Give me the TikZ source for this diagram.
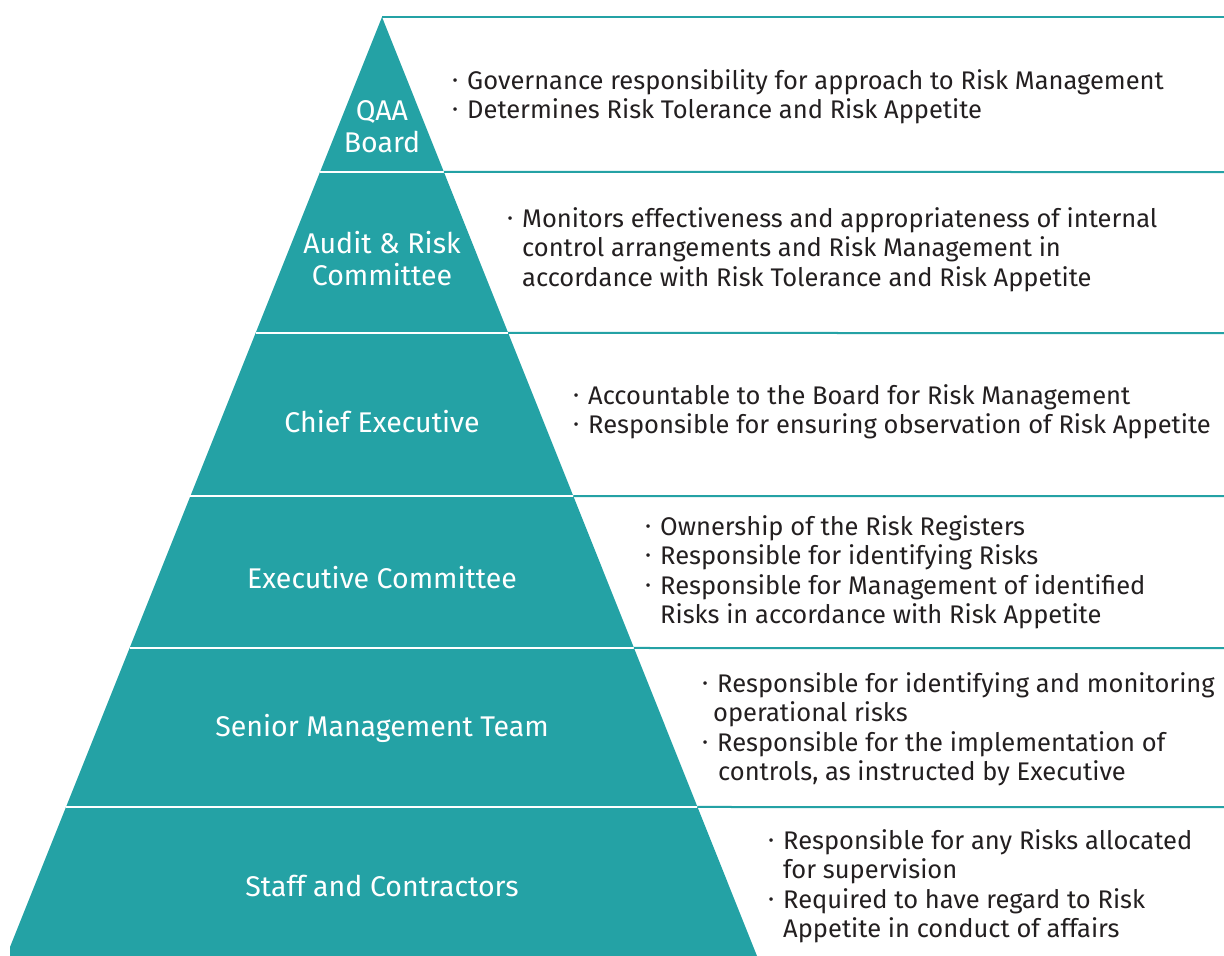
\documentclass[tikz,border=0pt]{standalone}
\usepackage{fontspec}
\setmainfont{Fira Sans}
\usetikzlibrary{calc}
\definecolor{qaateal}{RGB}{36,162,165}
\definecolor{inkgrey}{RGB}{35,31,32}
\newcommand{\bul}{\makebox[15pt][l]{\raisebox{1pt}{\textperiodcentered}}}
\newcommand{\cont}{\hspace*{15pt}}

\begin{document}
\begin{tikzpicture}[x=1pt,y=-1pt,
   tier/.style={text=white,align=center,font=\fontsize{28.5}{32}\selectfont},
   duty/.style={text=inkgrey,align=left,anchor=north west,inner sep=0pt,
     font=\fontsize{25.5}{29.5}\selectfont},
   rule/.style={qaateal,line width=2pt},
   gap/.style={white,line width=2.5pt}]
   \useasboundingbox (0,0) rectangle (1224,956);
   \coordinate (apex) at (382,17);
   \coordinate (bl) at (6.4,956);
   \coordinate (br) at (757,956);
   % pyramid
   \fill[qaateal] (apex) -- (br) -- (10,956) -- (10,947) -- cycle;
   \draw[rule] (apex) -- (1224,17);
   \foreach \y in {172,333,496,648,807} {
      \pgfmathsetmacro\f{(\y-17)/939}
      \draw[gap] ($(apex)!\f!(bl)$) -- ($(apex)!\f!(br)$);
      \draw[rule] ($(apex)!\f!(br)$) -- (1224,\y);
   }
   % tiers
   \node [tier] (t_1) at (382,127) {QAA\\Board};
   \node [tier] (t_2) at (382,259) {Audit \& Risk\\Committee};
   \node [tier] (t_3) at (382,422) {Chief Executive};
   \node [tier] (t_4) at (382,578) {Executive Committee};
   \node [tier] (t_5) at (382,728) {Senior Management Team};
   \node [tier] (t_6) at (382,886) {Staff and Contractors};
   % duties
   \node [duty] (d_1) at (452,69) {\bul Governance responsibility for approach to Risk Management\\
      \bul Determines Risk Tolerance and Risk Appetite};
   \node [duty] (d_2) at (507,207) {\bul Monitors effectiveness and appropriateness of internal\\
      \cont control arrangements and Risk Management in\\
      \cont accordance with Risk Tolerance and Risk Appetite};
   \node [duty] (d_3) at (573,384) {\bul Accountable to the Board for Risk Management\\
      \bul Responsible for ensuring observation of Risk Appetite};
   \node [duty] (d_4) at (645,515) {\bul Ownership of the Risk Registers\\
      \bul Responsible for identifying Risks\\
      \bul Responsible for Management of identified\\
      \cont Risks in accordance with Risk Appetite};
   \node [duty] (d_5) at (702,672) {\bul Responsible for identifying and monitoring\\
      \hspace*{11pt}operational risks\\
      \bul Responsible for the implementation of\\
      \hspace*{16pt}controls, as instructed by Executive};
   \node [duty] (d_6) at (768,829) {\bul Responsible for any Risks allocated\\
      \cont for supervision\\
      \bul Required to have regard to Risk\\
      \cont Appetite in conduct of affairs};
\end{tikzpicture}
\end{document}
